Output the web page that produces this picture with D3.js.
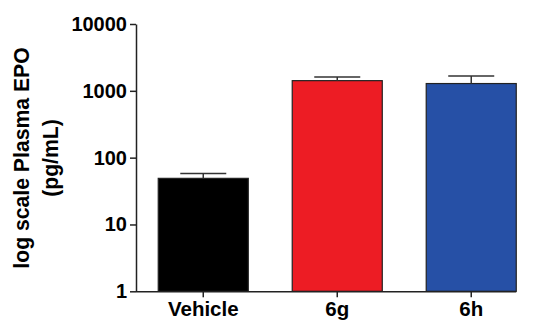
<!DOCTYPE html>
<html><head><meta charset="utf-8">
<script src="https://cdn.jsdelivr.net/npm/d3@7"></script>
<style>body{margin:0;background:#fff}svg{display:block}</style>
</head><body>
<script>
const categories = ["Vehicle", "6g", "6h"];
const means = [49, 1420, 1285];
const errUpper = [58, 1610, 1670];
const colors = ["#000000", "#ED1C24", "#2650A6"];
const yTicks = [1, 10, 100, 1000, 10000];

const W = 536, H = 322;
const svg = d3.select("body").append("svg").attr("width", W).attr("height", H);
const font = "Arial, 'Liberation Sans', sans-serif";

const y = d3.scaleLog().domain([1, 10000]).range([291.3, 24]);
const x = d3.scaleBand().domain(categories).range([136, 538.5]).paddingInner(0.328).paddingOuter(0.166);

// bars
svg.append("g").selectAll("rect").data(categories).join("rect")
  .attr("x", d => x(d))
  .attr("y", (d, i) => y(means[i]))
  .attr("width", x.bandwidth())
  .attr("height", (d, i) => y(1) - y(means[i]))
  .attr("fill", (d, i) => colors[i])
  .attr("stroke", "#222").attr("stroke-width", 1.2);

// error bars
const eb = svg.append("g").attr("stroke", "#333").attr("stroke-width", 1.5);
categories.forEach((c, i) => {
  const cx = x(c) + x.bandwidth() / 2;
  eb.append("line").attr("x1", cx).attr("x2", cx).attr("y1", y(means[i])).attr("y2", y(errUpper[i]));
  eb.append("line").attr("x1", cx - 23).attr("x2", cx + 23).attr("y1", y(errUpper[i])).attr("y2", y(errUpper[i]));
});

// y axis
const ya = svg.append("g").attr("transform", "translate(136,0)")
  .call(d3.axisLeft(y).tickValues(yTicks).tickFormat(d3.format("d")).tickSize(6).tickSizeOuter(0).tickPadding(3));
ya.selectAll("text").attr("font-family", font).attr("font-size", 20).attr("font-weight", "bold").attr("fill", "#000");
ya.selectAll("line,path").attr("stroke", "#222").attr("stroke-width", 1.5);

// x axis
const xa = svg.append("g").attr("transform", "translate(0,291.3)")
  .call(d3.axisBottom(x).tickSize(6).tickSizeOuter(0).tickPadding(4));
const lastRight = x(categories[categories.length - 1]) + x.bandwidth();
xa.select(".domain").attr("d", `M136,0.5H${lastRight}`);
xa.selectAll("text").attr("font-family", font).attr("font-size", 20.5).attr("font-weight", "bold").attr("fill", "#000");
xa.selectAll("line,path").attr("stroke", "#222").attr("stroke-width", 1.5);

// y title
const t = svg.append("text").attr("transform", "translate(0,158) rotate(-90)")
  .attr("text-anchor", "middle").attr("font-family", font).attr("font-size", 21.2).attr("font-weight", "bold").attr("fill", "#000");
t.append("tspan").attr("x", 0).attr("y", 29).text("log scale Plasma EPO");
t.append("tspan").attr("x", 0).attr("y", 57.5).text("(pg/mL)");
</script>
</body></html>
